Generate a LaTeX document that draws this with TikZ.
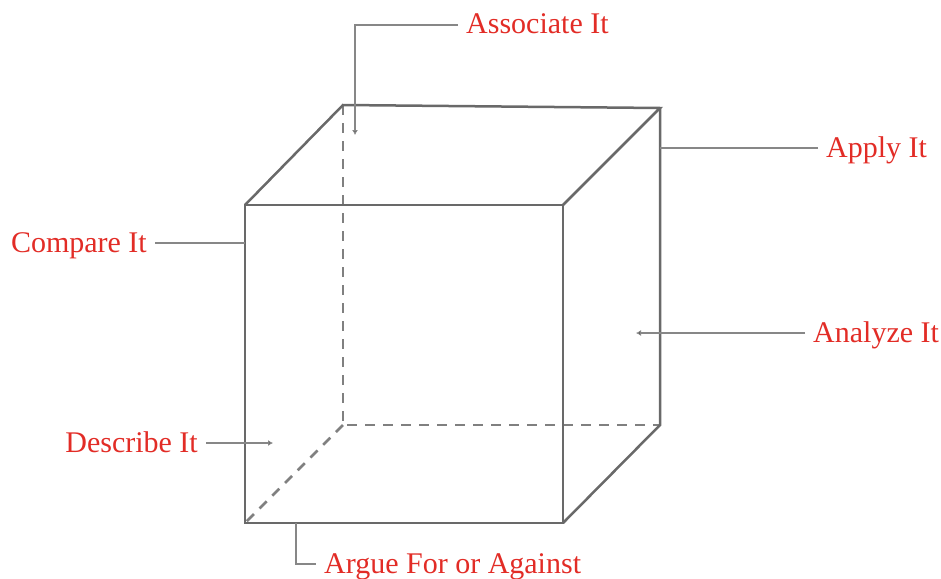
\documentclass[tikz,border=0pt]{standalone}
\usepackage{fontspec}
\setmainfont{Liberation Serif}
\usepackage{xcolor}
\usetikzlibrary{arrows.meta}

\definecolor{edgegray}{RGB}{105,105,105}
\definecolor{leadgray}{RGB}{135,135,135}
\definecolor{labelred}{RGB}{226,44,38}

\begin{document}
\begin{tikzpicture}[
				x=1pt, y=-1pt,
				edge/.style={draw=edgegray, line width=2.5pt, line join=miter},
				hidden/.style={edge, draw=edgegray!85, dash pattern=on 10pt off 8pt},
				lead/.style={draw=leadgray, line width=2.4pt},
				tip/.style={lead, -{Latex[length=5pt,width=6pt,fill=edgegray!70!black]}},
				lbl/.style={
					font=\fontsize{30}{31}\selectfont,
					text=labelred,
					text height=18pt,
					text depth=0pt,
					inner xsep=8pt,
					inner ysep=0pt
				}
				]
				\useasboundingbox (0,0) rectangle (941,578);
				
				% corners of the cube
				\coordinate (ftl) at (245,205);
				\coordinate (ftr) at (563,205);
				\coordinate (fbr) at (563,523);
				\coordinate (fbl) at (245,523);
				\coordinate (btl) at (343,105);
				\coordinate (btr) at (660,108);
				\coordinate (bbr) at (660,425);
				\coordinate (bbl) at (343,425);
				
				\draw[hidden] (btl) -- (bbl) -- (bbr);
				\draw[hidden] (bbl) -- (fbl);
				\draw[edge] (ftl) -- (ftr) -- (fbr) -- (fbl) -- cycle;
				\draw[edge] (ftl) -- (btl) -- (btr) -- (ftr);
				\draw[edge] (btr) -- (bbr) -- (fbr);
				
				% labels
				\node[lbl, anchor=west] (assoc) at (458,25) {Associate It};
				\node[lbl, anchor=west] (apply) at (818,148) {Apply It};
				\node[lbl, anchor=west] (analyze) at (805,333) {Analyze It};
				\node[lbl, anchor=east] (compare) at (155,243) {Compare It};
				\node[lbl, anchor=east] (describe) at (206,443) {Describe It};
				\node[lbl, anchor=west] (argue) at (316,564) {Argue For or Against};
				
				\coordinate (assoctip) at (355,135);
				\coordinate (analyzetip) at (636,333);
				\coordinate (describetip) at (273,443);
				\coordinate (arguetop) at (296,523);
				
				\draw[tip] (assoc.west) -| (assoctip);
				\draw[lead] (apply.west) -- (apply.west -| btr);
				\draw[tip] (analyze.west) -- (analyzetip);
				\draw[lead] (compare.east) -- (compare.east -| ftl);
				\draw[tip] (describe.east) -- (describetip);
				\draw[lead] (arguetop) |- (argue.west);
			\end{tikzpicture}
\end{document}
